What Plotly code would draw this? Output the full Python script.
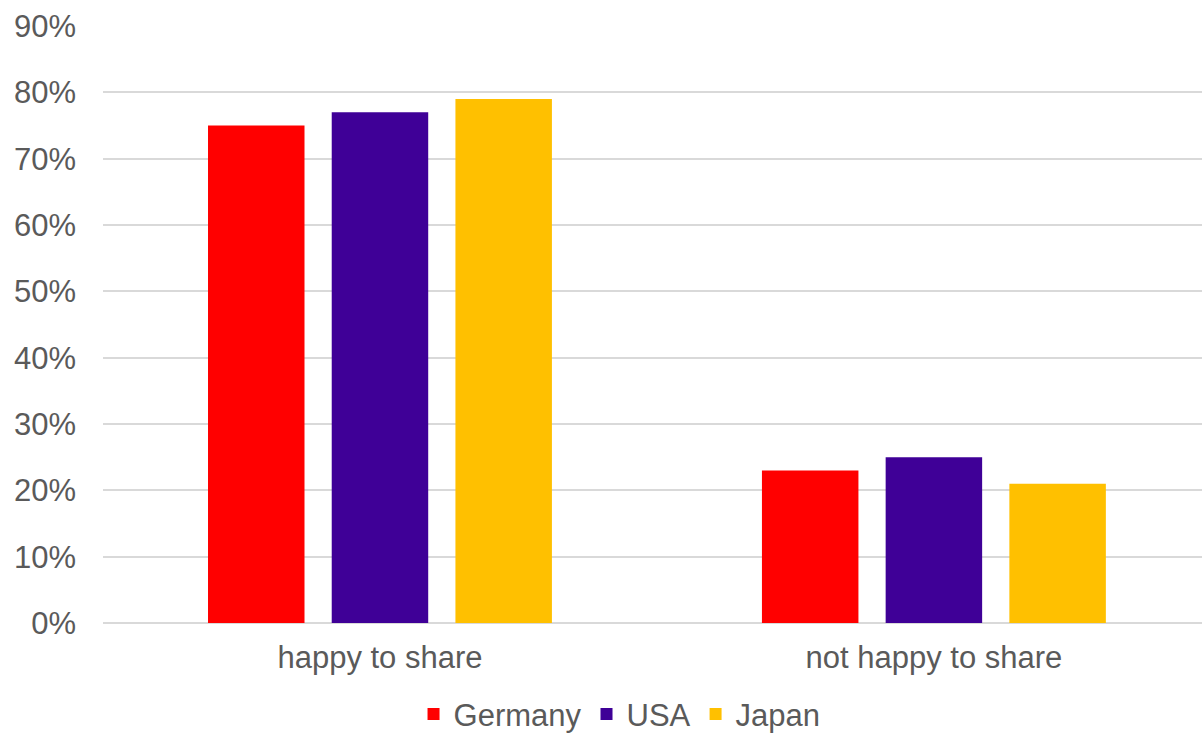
import plotly.graph_objects as go

categories = ["happy to share", "not happy to share"]
countries = ["Germany", "USA", "Japan"]
germany = [0.75, 0.23]
usa = [0.77, 0.25]
japan = [0.79, 0.21]
colors = ["#FF0000", "#3F0097", "#FFC000"]
y_ticks = [0, 0.1, 0.2, 0.3, 0.4, 0.5, 0.6, 0.7, 0.8, 0.9]

fig = go.Figure()
for name, vals, col in zip(countries, [germany, usa, japan], colors):
    fig.add_trace(go.Bar(x=categories, y=vals, name=name,
                         marker=dict(color=col, line=dict(width=0))))

font = dict(family="Liberation Sans, Arial, sans-serif", size=31, color="#5A5A5A")
fig.update_layout(
    width=1202, height=735,
    margin=dict(l=103, r=0, t=26, b=112, autoexpand=False),
    paper_bgcolor="white", plot_bgcolor="white",
    barmode="group", bargap=0.33, bargroupgap=0.22,
    font=font,
    showlegend=True,
    legend=dict(orientation="h", x=0.47, xanchor="center", y=-0.153, yanchor="middle",
                font=font, itemclick=False, tracegroupgap=0),
    xaxis=dict(range=[-0.5, 1.484], showgrid=False, showline=False, ticks="",
               ticklabelstandoff=13, tickfont=font),
    yaxis=dict(range=[0, 0.9], tickvals=y_ticks, tickformat=".0%",
               showgrid=True, gridcolor="#D9D9D9", gridwidth=1.5,
               zeroline=True, zerolinecolor="#D9D9D9", zerolinewidth=1.5,
               showline=False, ticks="", ticklabelstandoff=26, tickfont=font),
)
fig.write_html("out.html")
